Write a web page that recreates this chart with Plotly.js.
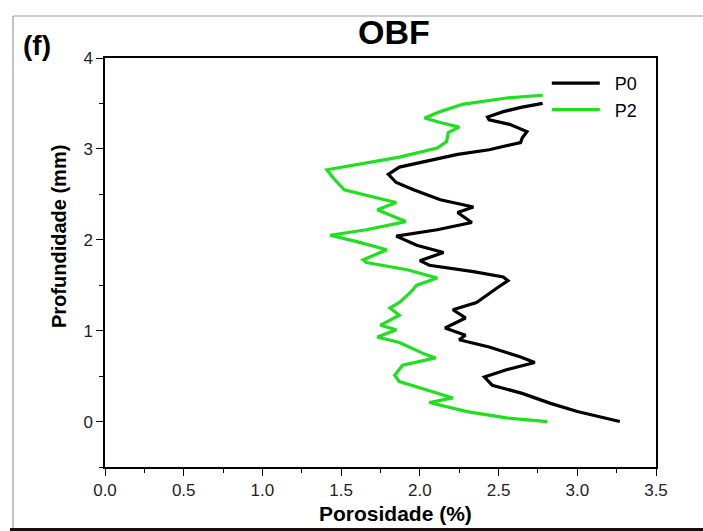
<!DOCTYPE html>
<html>
<head>
<meta charset="utf-8">
<script src="https://cdn.plot.ly/plotly-3.0.1.min.js"></script>
<style>
html,body{margin:0;padding:0;background:#fff;}
#chart{width:703px;height:531px;}
</style>
</head>
<body>
<div id="chart"></div>
<script>
// P0 (black) — porosity (%) vs depth (mm), read top to bottom
const p0Porosity = [2.78,2.65,2.53,2.43,2.44,2.57,2.68,2.65,2.64,2.44,2.24,2.02,1.87,1.80,1.85,1.96,2.13,2.34,2.24,2.33,2.11,1.85,1.98,2.15,2.00,2.06,2.34,2.53,2.56,2.49,2.40,2.36,2.21,2.29,2.16,2.29,2.25,2.44,2.64,2.73,2.55,2.41,2.46,2.65,2.83,3.00,3.27];
const p0Depth    = [3.50,3.46,3.41,3.35,3.32,3.27,3.19,3.12,3.07,2.99,2.94,2.86,2.80,2.72,2.63,2.55,2.44,2.36,2.30,2.19,2.11,2.04,1.94,1.86,1.77,1.72,1.65,1.59,1.55,1.47,1.36,1.31,1.23,1.14,1.03,0.95,0.90,0.82,0.71,0.65,0.57,0.49,0.40,0.31,0.20,0.11,0.00];

// P2 (green)
const p2Porosity = [2.78,2.55,2.27,2.13,2.03,2.13,2.25,2.18,2.17,2.11,1.87,1.60,1.41,1.45,1.52,1.73,1.85,1.73,1.91,1.66,1.43,1.60,1.79,1.64,1.66,1.92,2.11,1.98,1.94,1.87,1.81,1.87,1.75,1.85,1.73,1.87,2.02,2.10,1.89,1.84,1.87,2.04,2.21,2.06,2.30,2.55,2.81];
const p2Depth    = [3.59,3.56,3.49,3.41,3.34,3.29,3.24,3.18,3.08,3.01,2.91,2.83,2.77,2.68,2.55,2.46,2.41,2.33,2.20,2.11,2.05,1.98,1.89,1.78,1.75,1.67,1.58,1.50,1.42,1.31,1.25,1.17,1.06,1.01,0.93,0.87,0.75,0.70,0.62,0.51,0.44,0.35,0.26,0.21,0.11,0.04,0.00];

const seriesNames = ['P0','P2'];
const titleText = 'OBF';
const panelLabel = '(f)';
const xTitle = 'Porosidade (%)';
const yTitle = 'Profundidade (mm)';

const FONT = 'Liberation Sans, Arial, sans-serif';

const traces = [
  {x:p0Porosity, y:p0Depth, name:'&nbsp;&nbsp;'+seriesNames[0], type:'scatter', mode:'lines',
   line:{color:'#000000', width:3.2}},
  {x:p2Porosity, y:p2Depth, name:'&nbsp;&nbsp;'+seriesNames[1], type:'scatter', mode:'lines',
   line:{color:'#1ee01e', width:3.2}}
];

const axisCommon = {
  showgrid:false, zeroline:false, showline:true, linecolor:'#000', linewidth:1.5,
  mirror:true, ticks:'outside', ticklen:7, tickwidth:1.3, tickcolor:'#000',
  tickfont:{family:FONT, size:17, color:'#222'}
};

const L = 105, T = 58, W = 551, H = 409;
const px = v => (v - L) / W;
const py = v => (T + H - v) / H;

const layout = {
  width:703, height:531,
  margin:{l:L, r:703-L-W, t:T, b:531-T-H},
  paper_bgcolor:'#fff', plot_bgcolor:'#fff',
  showlegend:true,
  title:{text:'<b>'+titleText+'</b>', font:{family:FONT, size:34, color:'#000'},
         x:394/703, xanchor:'center', xref:'container', y:1-32/531, yanchor:'middle', yref:'container'},
  xaxis:Object.assign({}, axisCommon, {
    range:[0,3.5], dtick:0.5, tick0:0, tickformat:'.1f',
    minor:{dtick:0.25, ticklen:4, tickwidth:1.3, tickcolor:'#000', ticks:'outside'}
  }),
  yaxis:Object.assign({}, axisCommon, {
    range:[-0.5,4], dtick:1, tick0:0,
    minor:{dtick:0.5, ticklen:4, tickwidth:1.3, tickcolor:'#000', ticks:'outside'}
  }),
  legend:{x:px(549)-0.004, xanchor:'left', y:0.983, yanchor:'top', bgcolor:'rgba(0,0,0,0)',
          font:{family:FONT, size:18, color:'#000'}, itemwidth:48, tracegroupgap:0},
  annotations:[
    {text:'<b>'+panelLabel+'</b>', xref:'paper', yref:'paper', x:px(21), y:py(45),
     xanchor:'left', yanchor:'middle', showarrow:false, font:{family:FONT, size:28, color:'#000'}},
    {text:'<b>'+xTitle+'</b>', xref:'paper', yref:'paper', x:px(395), y:py(513),
     xanchor:'center', yanchor:'middle', showarrow:false, font:{family:FONT, size:21, color:'#000'}},
    {text:'<b>'+yTitle+'</b>', xref:'paper', yref:'paper', x:px(59), y:py(237), textangle:-90,
     xanchor:'center', yanchor:'middle', showarrow:false, font:{family:FONT, size:20, color:'#000'}}
  ],
  shapes:[
    {type:'line', xref:'paper', yref:'paper', x0:px(13), x1:px(710), y0:py(16), y1:py(16),
     line:{color:'#9a9a9a', width:1.2}},
    {type:'line', xref:'paper', yref:'paper', x0:px(13), x1:px(13), y0:py(16), y1:py(528),
     line:{color:'#9a9a9a', width:1.2}},
    {type:'line', xref:'paper', yref:'paper', x0:px(10), x1:px(710), y0:py(529.5), y1:py(529.5),
     line:{color:'#111', width:3}}
  ]
};

Plotly.newPlot('chart', traces, layout, {displayModeBar:false, responsive:false});
</script>
</body>
</html>
